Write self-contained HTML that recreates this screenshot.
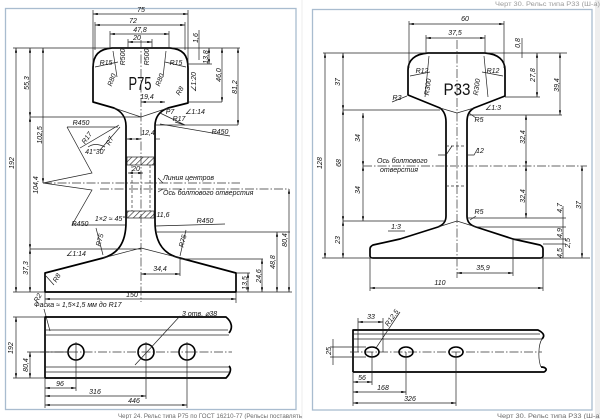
<!DOCTYPE html>
<html><head><meta charset="utf-8"><style>
html,body{margin:0;padding:0;background:#fff;}
svg{display:block;}
.t{font-family:"Liberation Sans",sans-serif;font-style:italic;font-size:7px;fill:#111;text-anchor:middle;}
.s{text-anchor:start;}
.d{stroke:#222;stroke-width:0.7;fill:none;}
.m{stroke:#222;stroke-width:0.7;fill:none;marker-start:url(#a);marker-end:url(#a);}
.o{stroke:#000;stroke-width:1.7;fill:none;stroke-linejoin:round;}
.c{stroke:#333;stroke-width:0.7;fill:none;stroke-dasharray:9 2 1.5 2;}
.h{stroke:#333;stroke-width:0.7;fill:none;stroke-dasharray:3 2;}
.cap{font-family:"Liberation Sans",sans-serif;font-size:6.3px;fill:#6a6a6a;}
</style></head><body>
<svg width="600" height="419" viewBox="0 0 600 419" xmlns="http://www.w3.org/2000/svg">
<defs>
<marker id="a" viewBox="0 0 8 4" refX="8" refY="2" markerWidth="5" markerHeight="2.4" markerUnits="userSpaceOnUse" orient="auto-start-reverse"><path d="M0,0 L8,2 L0,4z" fill="#111"/></marker>
<pattern id="hp" width="4" height="4" patternUnits="userSpaceOnUse" patternTransform="rotate(45)"><line x1="0" y1="0" x2="0" y2="4" stroke="#222" stroke-width="1.2"/></pattern>
</defs>
<rect x="0" y="0" width="600" height="419" fill="#fff"/>
<rect x="595" y="0" width="5" height="419" fill="#eeeeee"/>
<line x1="302" y1="0" x2="302" y2="419" stroke="#ececec" stroke-width="1"/>

<!-- frames -->
<rect x="5.5" y="8.5" width="290.5" height="401" fill="none" stroke="#a9bccf" stroke-width="1.3"/>
<rect x="312.5" y="9.5" width="279.5" height="400.5" fill="none" stroke="#a9bccf" stroke-width="1.3"/>

<!-- ================= LEFT P75 ================= -->
<path class="o" d="M93,102 L93,68 C93,55 99,49 112,48 L170,48 C183,49 188,55 188,68 L188,103 L168,108 C160,111 155,117 155,126 L155,222 C155,245 166,255 180,258 L236,273 L236,292 L45,292 L45,273 L103,258 C117,254 126,244 126,222 L126,126 C126,117 121,111 114,108 Z"/>
<line class="c" x1="141" y1="40" x2="141" y2="302"/>
<rect x="127" y="157" width="27" height="8" fill="url(#hp)" stroke="#222" stroke-width="0.7"/>
<rect x="127" y="211" width="27" height="7" fill="url(#hp)" stroke="#222" stroke-width="0.7"/>
<line class="h" x1="132" y1="165" x2="132" y2="211"/>
<line class="h" x1="150" y1="165" x2="150" y2="211"/>

<!-- extension lines -->
<path class="d" d="M13,48 H240 M30,117 H141 M114,108 L141,117 L168,108 M155,125 H238 M188,102 H222 M187,64 H212 M93,10 V66 M188,10 V66 M95,22 V50 M185,22 V50 M110,31 V48 M169,31 V48 M128,39 V48 M152,39 V48 M199,30 V60"/>
<path class="d" d="M30,249 H141 M103,258 L141,248 L180,258 M157,232 H290 M180,259 H263 M236,273 H250 M45,292 V303 M236,292 V303 M180,258 V276 M13,292 H45"/>
<!-- top dims -->
<line class="m" x1="93" y1="14" x2="188" y2="14"/><text class="t" x="141" y="12">75</text>
<line class="m" x1="95" y1="25" x2="185" y2="25"/><text class="t" x="133" y="23">72</text>
<line class="m" x1="110" y1="34" x2="169" y2="34"/><text class="t" x="140" y="32">47,8</text>
<line class="m" x1="128" y1="42" x2="152" y2="42"/><text class="t" x="137" y="40">20</text>
<text class="t" transform="rotate(-90 196 38)" x="196" y="40">1,6</text>
<line class="m" x1="209" y1="48" x2="209" y2="64"/><text class="t" transform="rotate(-90 206 57)" x="206" y="59">13,8</text>
<line class="m" x1="222" y1="48" x2="222" y2="102"/><text class="t" transform="rotate(-90 219 75)" x="219" y="77">46,0</text>
<line class="m" x1="238" y1="48" x2="238" y2="125"/><text class="t" transform="rotate(-90 235 87)" x="235" y="89">81,2</text>
<!-- left dims -->
<line class="m" x1="16" y1="48" x2="16" y2="292"/><text class="t" transform="rotate(-90 12 163)" x="12" y="165">192</text>
<line class="m" x1="30" y1="48" x2="30" y2="117"/><text class="t" transform="rotate(-90 27 83)" x="27" y="85">55,3</text>
<line class="m" x1="43" y1="48" x2="43" y2="183"/><text class="t" transform="rotate(-90 40 135)" x="40" y="137">102,5</text>
<line class="m" x1="30" y1="117" x2="30" y2="249"/><text class="t" transform="rotate(-90 36 185)" x="36" y="187">104,4</text>
<line class="m" x1="30" y1="249" x2="30" y2="292"/><text class="t" transform="rotate(-90 26 268)" x="26" y="270">37,3</text>
<!-- labels head -->
<text x="140" y="90" style="font-family:'Liberation Sans',sans-serif;font-size:18px;fill:#111;text-anchor:middle" textLength="23" lengthAdjust="spacingAndGlyphs">P75</text>
<text class="t" x="106" y="65">R15</text><text class="t" x="176" y="65">R15</text>
<text class="t" transform="rotate(-90 123 57)" x="123" y="59">R500</text>
<text class="t" transform="rotate(-90 147 57)" x="147" y="59">R500</text>
<text class="t" transform="rotate(-70 112 80)" x="112" y="82">R80</text>
<text class="t" transform="rotate(-70 160 80)" x="160" y="82">R80</text>
<path class="d" d="M95,67 L118,62 M186,67 L165,62 M113,51 L117,77 M166,51 L163,77"/>
<text class="t" transform="rotate(-90 194 82)" x="194" y="84">∠1:20</text>
<text class="t" transform="rotate(-60 180 91)" x="180" y="93">R8</text>
<line class="m" x1="141" y1="102" x2="165" y2="102"/><text class="t" x="147" y="99">19,4</text>
<text class="t" x="170" y="114">P7</text><text class="t" x="179" y="121">R17</text><text class="t" x="195" y="114">∠1:14</text>
<path class="d" d="M160,113 L185,125 L175,122"/>
<line class="m" x1="127" y1="139" x2="141" y2="139"/><line class="d" x1="155" y1="139" x2="160" y2="139"/><text class="t" x="148" y="135">12,4</text>
<!-- R450 zigzag -->
<path class="d" d="M67,127 L118,127 M67,127 L92,173 L43,183 L92,190 L72,225 L125,225 M160,124 L230,136 M155,226 L225,224"/>
<text class="t" x="81" y="125">R450</text><text class="t" x="220" y="134">R450</text>
<path class="d" d="M80,148 L119,125 M100,150 L120,127 M88,147 Q95,142 105,147"/>
<text class="t" transform="rotate(-55 87 138)" x="87" y="140">R17</text>
<text class="t" transform="rotate(-65 110 141)" x="110" y="143">R7</text>
<text class="t" x="95" y="154">41°30'</text>
<line class="m" x1="128" y1="173" x2="143" y2="173"/><text class="t" x="136" y="171">20</text>
<line class="c" x1="43" y1="183" x2="240" y2="183"/>
<line class="c" x1="100" y1="189" x2="289" y2="189"/>
<text class="t s" x="163" y="180">Линия центров</text>
<text class="t s" x="163" y="195">Ось болтового отверстия</text>
<path class="d" d="M158,178 L163,183 M158,192 L163,189"/>
<text class="t" x="110" y="221">1×2 ≈ 45°</text>
<text class="t" x="163" y="217">11,6</text>
<text class="t" x="80" y="226">R450</text><text class="t" x="205" y="223">R450</text>
<text class="t" transform="rotate(-75 100 240)" x="100" y="242">R75</text>
<text class="t" transform="rotate(-75 183 241)" x="183" y="243">R75</text>
<path class="d" d="M96,228 L103,255 M186,230 L180,256"/>
<text class="t" x="76" y="256">∠1:14</text>
<text class="t" transform="rotate(-60 57 278)" x="57" y="280">R8</text>
<path class="d" d="M46,276 L54,285"/>
<text class="t" transform="rotate(-60 38 298)" x="38" y="300">R2</text>
<line class="m" x1="141" y1="274" x2="180" y2="274"/><text class="t" x="160" y="271">34,4</text>
<line class="m" x1="289" y1="189" x2="289" y2="292"/><text class="t" transform="rotate(-90 285 240)" x="285" y="242">80,4</text>
<line class="m" x1="277" y1="232" x2="277" y2="292"/><text class="t" transform="rotate(-90 273 262)" x="273" y="264">48,8</text>
<line class="m" x1="262" y1="259" x2="262" y2="292"/><text class="t" transform="rotate(-90 259 276)" x="259" y="278">24,6</text>
<line class="m" x1="248" y1="273" x2="248" y2="292"/><text class="t" transform="rotate(-90 245 283)" x="245" y="285">13,5</text>
<line class="d" x1="236" y1="292" x2="292" y2="292"/>
<line class="m" x1="45" y1="299" x2="236" y2="299"/><text class="t" x="132" y="297">150</text>
<text class="t s" x="34" y="307">Фаска ≈ 1,5×1,5 мм до R17</text>
<line class="d" x1="44" y1="309" x2="50" y2="331"/>

<!-- side view left -->
<path class="o" d="M45,378 V317 H226 C232,322 233,328 229,333"/>
<path class="o" d="M45,378 H226 C230,374 232,369 229,366"/>
<path class="d" d="M45,330 H228 M45,335 H229 M45,367 H229 M45,372 H229"/>
<line class="c" x1="40" y1="352" x2="232" y2="352"/>
<circle cx="76" cy="352" r="8" fill="none" stroke="#000" stroke-width="1.6"/>
<circle cx="146" cy="352" r="8" fill="none" stroke="#000" stroke-width="1.6"/>
<circle cx="187" cy="352" r="8" fill="none" stroke="#000" stroke-width="1.6"/>
<path class="d" d="M76,342 V391 M146,342 V399 M187,342 V408 M45,378 V408 M13,317 H45 M13,378 H45 M27,352 H68"/>
<line class="d" x1="180" y1="316" x2="135" y2="365"/>
<text class="t s" x="182" y="316">3 отв. ⌀38</text>
<line class="m" x1="16" y1="317" x2="16" y2="378"/><text class="t" transform="rotate(-90 11 348)" x="11" y="350">192</text>
<line class="m" x1="30" y1="352" x2="30" y2="378"/><text class="t" transform="rotate(-90 26 365)" x="26" y="367">80,4</text>
<line class="m" x1="45" y1="388" x2="76" y2="388"/><text class="t" x="60" y="386">96</text>
<line class="m" x1="45" y1="396" x2="146" y2="396"/><text class="t" x="95" y="394">316</text>
<line class="m" x1="45" y1="405" x2="187" y2="405"/><text class="t" x="134" y="403">446</text>

<text class="cap" x="118" y="418" textLength="184" lengthAdjust="spacingAndGlyphs">Черт 24. Рельс типа Р75 по ГОСТ 16210-77 (Рельсы поставлять</text>

<!-- ================= RIGHT P33 ================= -->
<path class="o" d="M408,95 L408,70 C408,60 415,54 428,53 L485,53 C498,54 505,60 505,70 L505,96 L474,108 C469,111 467,115 467,122 L467,216 C467,222 470,225 476,227 L513,239 L540,245 C542,246 543,247 543,249 L543,256 C543,257 542,258 540,258 L373,258 C371,258 370,257 370,256 L370,249 C370,247 371,246 373,245 L400,239 L438,227 C443,225 446,222 446,216 L446,122 C446,115 444,111 440,108 Z"/>
<line class="c" x1="457" y1="40" x2="457" y2="278"/>
<path class="h" d="M446,146 H467 M446,186 H467"/>
<path class="d" d="M323,53 H567 M343,110 H440 M440,108 L457,113 L474,108 M467,115 H562 M505,97 H540 M409,21 V68 M504,21 V68 M426,35 V53 M485,35 V53 M522,38 V58"/>
<path class="d" d="M343,221 H446 M438,227 L457,221 L476,227 M467,218 H566 M476,227 H566 M513,239 H566 M543,244 H566 M322,258 H590 M370,258 V291 M543,258 V291 M513,239 V276"/>
<line class="m" x1="409" y1="24" x2="504" y2="24"/><text class="t" x="465" y="21">60</text>
<line class="m" x1="426" y1="38" x2="485" y2="38"/><text class="t" x="455" y="35">37,5</text>
<text class="t" transform="rotate(-90 518 43)" x="518" y="45">0,8</text>
<line class="m" x1="537" y1="53" x2="537" y2="97"/><text class="t" transform="rotate(-90 533 75)" x="533" y="77">27,8</text>
<line class="m" x1="560" y1="53" x2="560" y2="115"/><text class="t" transform="rotate(-90 557 85)" x="557" y="87">39,4</text>
<line class="m" x1="325" y1="53" x2="325" y2="258"/><text class="t" transform="rotate(-90 320 163)" x="320" y="165">128</text>
<line class="m" x1="343" y1="53" x2="343" y2="110"/><text class="t" transform="rotate(-90 338 82)" x="338" y="84">37</text>
<line class="m" x1="343" y1="110" x2="343" y2="221"/><text class="t" transform="rotate(-90 339 163)" x="339" y="165">68</text>
<line class="m" x1="343" y1="221" x2="343" y2="258"/><text class="t" transform="rotate(-90 338 240)" x="338" y="242">23</text>
<line class="m" x1="363" y1="113" x2="363" y2="166"/><text class="t" transform="rotate(-90 358 138)" x="358" y="140">34</text>
<line class="m" x1="363" y1="166" x2="363" y2="221"/><text class="t" transform="rotate(-90 358 190)" x="358" y="192">34</text>
<text x="457" y="95" style="font-family:'Liberation Sans',sans-serif;font-size:17px;fill:#111;text-anchor:middle" textLength="27" lengthAdjust="spacingAndGlyphs">P33</text>
<text class="t" x="422" y="73">R12</text><text class="t" x="493" y="73">R12</text>
<path class="d" d="M410,76 L430,72 M503,76 L482,72 M429,56 L425,97 M484,56 L488,97"/>
<text class="t" transform="rotate(-82 428 87)" x="428" y="89">R300</text>
<text class="t" transform="rotate(-82 477 87)" x="477" y="89">R300</text>
<text class="t" x="397" y="100">R3</text><line class="d" x1="392" y1="102" x2="407" y2="96"/>
<text class="t" x="493" y="110">∠1:3</text>
<text class="t" x="479" y="122">R5</text><line class="d" x1="469" y1="113" x2="476" y2="118"/>
<line class="m" x1="526" y1="115" x2="526" y2="166"/><text class="t" transform="rotate(-90 523 137)" x="523" y="139">32,4</text>
<line class="m" x1="526" y1="166" x2="526" y2="218"/><text class="t" transform="rotate(-90 523 196)" x="523" y="198">32,4</text>
<path class="d" d="M438,155 L446,155 M467,155 L474,155 L478,148 M446,155 L452,146"/>
<text class="t" x="480" y="153">12</text>
<line class="c" x1="363" y1="166" x2="587" y2="166"/>
<text class="t s" x="377" y="163">Ось болтового</text>
<text class="t s" x="380" y="172">отверстия</text>
<text class="t" x="479" y="214">R5</text><line class="d" x1="470" y1="220" x2="476" y2="216"/>
<text class="t" x="396" y="229">1:3</text><line class="d" x1="388" y1="231" x2="405" y2="231"/>
<line class="m" x1="582" y1="166" x2="582" y2="258"/><text class="t" transform="rotate(-90 579 205)" x="579" y="207">37</text>
<line class="d" x1="563" y1="206" x2="563" y2="258"/>
<text class="t" transform="rotate(-90 560 208)" x="560" y="210">4,7</text>
<text class="t" transform="rotate(-90 560 233)" x="560" y="235">4,9</text>
<text class="t" transform="rotate(-90 568 243)" x="568" y="245">2,5</text>
<text class="t" transform="rotate(-90 560 253)" x="560" y="255">4,5</text>
<line class="m" x1="457" y1="273" x2="513" y2="273"/><text class="t" x="483" y="270">35,9</text>
<line class="m" x1="370" y1="288" x2="543" y2="288"/><text class="t" x="440" y="285">110</text>

<!-- side view right -->
<path class="o" d="M353,372 V330 H538 C544,333 545,336 542,339"/>
<path class="o" d="M353,372 H544 C548,370 546,367 541,367"/>
<path class="d" d="M353,334 H540 M353,339 H542 M542,339 C538,345 538,360 541,367"/>
<line class="c" x1="350" y1="352" x2="542" y2="352"/>
<ellipse cx="372" cy="352" rx="7" ry="5" fill="none" stroke="#000" stroke-width="1.6"/>
<ellipse cx="406" cy="352" rx="7" ry="5" fill="none" stroke="#000" stroke-width="1.6"/>
<ellipse cx="456" cy="352" rx="7" ry="5" fill="none" stroke="#000" stroke-width="1.6"/>
<path class="d" d="M358,318 V352 M383,318 V352 M372,352 V385 M406,352 V395 M456,352 V406 M353,372 V406 M330,347 H366 M330,357 H366 M376,348 L400,312"/>
<line class="m" x1="358" y1="322" x2="383" y2="322"/><text class="t" x="371" y="319">33</text>
<text class="t" transform="rotate(-55 392 318)" x="392" y="320">R12,5</text>
<line class="d" x1="333" y1="339" x2="333" y2="365"/>
<text class="t" transform="rotate(-90 329 351)" x="329" y="353">25</text>
<line class="m" x1="353" y1="382" x2="372" y2="382"/><text class="t" x="362" y="380">56</text>
<line class="m" x1="353" y1="392" x2="406" y2="392"/><text class="t" x="383" y="390">168</text>
<line class="m" x1="353" y1="403" x2="456" y2="403"/><text class="t" x="410" y="401">326</text>

<text class="cap" x="497" y="418" textLength="105" lengthAdjust="spacingAndGlyphs">Черт 30. Рельс типа Р33 (Ш-а)</text>
<text class="cap" x="495" y="6" textLength="105" lengthAdjust="spacingAndGlyphs" style="fill:#9a9a9a">Черт 30. Рельс типа Р33 (Ш-а)</text>
</svg>
</body></html>
